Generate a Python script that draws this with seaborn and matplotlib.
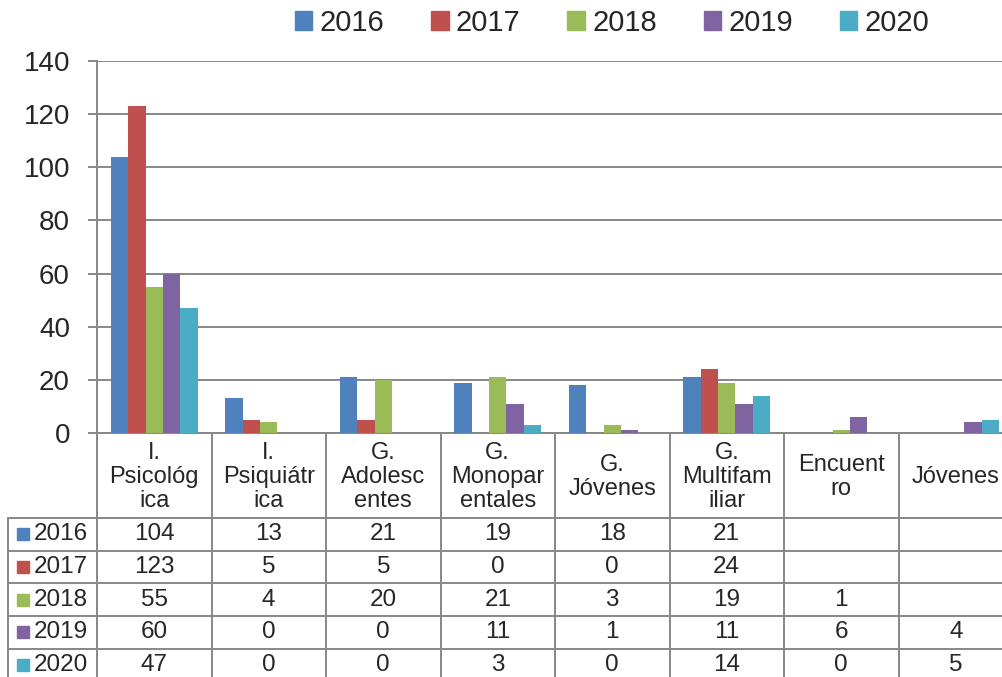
import matplotlib
matplotlib.use('Agg')
import matplotlib.pyplot as plt
import seaborn as sns
import pandas as pd
import numpy as np
from matplotlib.patches import Patch, Rectangle
from matplotlib.lines import Line2D
from matplotlib.transforms import blended_transform_factory

categories = ['I.\nPsicológ\nica', 'I.\nPsiquiátr\nica', 'G.\nAdolesc\nentes',
              'G.\nMonopar\nentales', 'G.\nJóvenes', 'G.\nMultifam\niliar',
              'Encuent\nro', 'Jóvenes']
years = ['2016', '2017', '2018', '2019', '2020']
v2016 = [104, 13, 21, 19, 18, 21, None, None]
v2017 = [123, 5, 5, 0, 0, 24, None, None]
v2018 = [55, 4, 20, 21, 3, 19, 1, None]
v2019 = [60, 0, 0, 11, 1, 11, 6, 4]
v2020 = [47, 0, 0, 3, 0, 14, 0, 5]
series = [v2016, v2017, v2018, v2019, v2020]
colors = ['#4F81BD', '#C0504D', '#9BBB59', '#8064A2', '#4BACC6']
yticks = [0, 20, 40, 60, 80, 100, 120, 140]

rows = []
for year, vals in zip(years, series):
    for cat, v in zip(categories, vals):
        if v is not None:
            rows.append({'cat': cat, 'year': year, 'val': v})
df = pd.DataFrame(rows)

sns.set_style('white')
plt.rcParams['font.family'] = ['Liberation Sans', 'DejaVu Sans']
grey = '#878787'

W, H = 1003, 677
fig = plt.figure(figsize=(W / 100, H / 100), dpi=100)
# plot area runs past the right edge, as in the cropped original
ax = fig.add_axes([97 / W, 1 - 433 / H, 916 / W, 372 / H])

sns.barplot(data=df, x='cat', y='val', hue='year', order=categories,
            hue_order=years, palette=colors, saturation=1, width=0.76,
            linewidth=0, legend=False, ax=ax, zorder=3)

ax.set_yticks(yticks)
ax.set_xticks([])
ax.set_xlabel('')
ax.set_ylabel('')
ax.yaxis.grid(True, color=grey, linewidth=1.4)
ax.set_axisbelow(True)
for s in ['top', 'right']:
    ax.spines[s].set_visible(False)
for s in ['left', 'bottom']:
    ax.spines[s].set_color(grey)
    ax.spines[s].set_linewidth(1.4)
ax.tick_params(axis='y', length=6.5, width=1.4, color=grey, pad=13,
               labelsize=20, left=True)

# data table below the axis
trans = blended_transform_factory(ax.transData, fig.transFigure)
header_bottom = 518
row_h = 32.7
row_tops = [header_bottom + i * row_h for i in range(len(years))]

for b in np.arange(-0.5, len(categories)):
    ax.plot([b, b], [1 - 433 / H, 0], transform=trans, color=grey,
            lw=1.4, clip_on=False)
fig.add_artist(Line2D([8 / W, 8 / W], [1 - header_bottom / H, 0],
                      transform=fig.transFigure, color=grey, lw=1.4))
for yt in row_tops:
    fig.add_artist(Line2D([8 / W, 1], [1 - yt / H, 1 - yt / H],
                          transform=fig.transFigure, color=grey, lw=1.4))

for i, cat in enumerate(categories):
    ax.text(i, 1 - 477 / H, cat, transform=trans, ha='center', va='center',
            fontsize=17, linespacing=1.1, multialignment='center')

for r, (year, vals, c) in enumerate(zip(years, series, colors)):
    yc = 1 - (row_tops[r] + row_h / 2) / H
    fig.add_artist(Rectangle((17 / W, yc - 6 / H), 12 / W, 12 / H,
                             transform=fig.transFigure, color=c))
    fig.text(34 / W, yc, year, ha='left', va='center', fontsize=17.5)
    for i, v in enumerate(vals):
        if v is not None:
            ax.text(i, yc, str(v), transform=trans, ha='center',
                    va='center', fontsize=17.5)

ax.set_xlim(-0.5, len(categories) - 0.5)
ax.set_ylim(0, 140)

handles = [Patch(color=c, label=y) for y, c in zip(years, colors)]
fig.legend(handles=handles, loc='center', bbox_to_anchor=(612 / W, 1 - 23 / H),
           ncol=5, frameon=False, fontsize=21, handlelength=0.6,
           handleheight=0.6, handletextpad=0.25, columnspacing=1.6)

fig.savefig('out.png', dpi=100)
